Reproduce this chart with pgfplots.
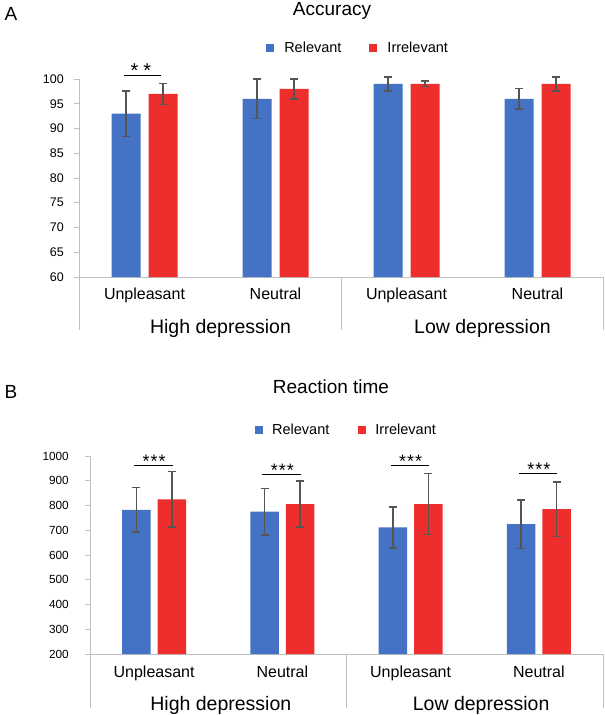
\documentclass[border=0pt]{standalone}
\usepackage{pgfplots}
\pgfplotsset{compat=1.18}
\usepackage{pgfplotstable}
\usepackage{fontspec}
\setmainfont{Liberation Sans}

\definecolor{relblue}{HTML}{4472C4}
\definecolor{irrred}{HTML}{EE2D2D}
\definecolor{errgray}{HTML}{555555}
\definecolor{axgray}{HTML}{BFBFBF}

\newcommand{\fs}[1]{\fontsize{#1bp}{#1bp}\selectfont}

% accuracy (%)
\pgfplotstableread{
x rel relerr irr irrerr
0 93 4.6 97 2.1
1 96 4.0 98 2.0
2 99 1.4 99 0.55
3 96 2.1 99 1.4
}\acctable

% reaction time (ms)
\pgfplotstableread{
x rel relerr irr irrerr
0 782 90 825 112
1 775 94 806 93
2 712 83 806 123
3 725 98 785 110
}\rttable

\pgfplotsset{
  panel/.style={
    scale only axis,
    ybar,
    axis lines*=left,
    axis line style={axgray, line width=1bp},
    xmin=-0.5, xmax=3.5,
    xtick=\empty,
    ytick style={axgray, line width=1bp},
    tick align=outside,
    major tick length=5bp,
    yticklabel style={anchor=east, inner sep=0pt,
      /pgf/number format/assume math mode=true,
      /pgf/number format/1000 sep={}},
    clip=false,
    legend columns=2,
    legend image code/.code={\fill[##1] (0bp,-4bp) rectangle (8bp,4bp);},
  },
  errs/.style={error bars/.cd, y dir=both, y explicit,
    error bar style={errgray, line width=1.5bp},
    error mark options={errgray, rotate=90, mark size=4bp, line width=1.5bp}},
}
\tikzset{
  sepline/.style={axgray, line width=1bp},
  cat/.style={anchor=base, font=\fs{16}},
  grp/.style={anchor=base, font=\fs{19.5}},
}

\begin{document}
\begin{tikzpicture}
\useasboundingbox (0,0) rectangle (605bp,-715bp);

% ---------- A: accuracy ----------
\node[anchor=base west, font=\fs{19}] at (1bp,-20bp) {A};
\node[anchor=base, font=\fs{19}] at (332bp,-15bp) {Accuracy};
\begin{axis}[panel,
  at={(79bp,-277bp)}, anchor=south west,
  width=524bp, height=198bp,
  bar width=29bp,
  ymin=60, ymax=100, ytick={60,65,...,100},
  yticklabel style={font=\fs{12.5}, xshift=-10bp},
  legend style={at={(0.357,1.159)}, anchor=west, draw=none, fill=none,
    inner sep=0pt, font=\fs{14.5},
    /tikz/every odd column/.append style={column sep=10bp},
    /tikz/every even column/.append style={column sep=28bp},
    nodes={inner sep=0pt, anchor=west}},
]
\addplot[bar shift=-18.5bp, fill=relblue, draw=none, errs]
  table[x=x, y=rel, y error=relerr]{\acctable};
\addplot[bar shift=18.5bp, fill=irrred, draw=none, errs]
  table[x=x, y=irr, y error=irrerr]{\acctable};
\legend{Relevant, Irrelevant}
% group separators
\draw[sepline] (axis cs:-0.5,60) -- ([yshift=-53bp]axis cs:-0.5,60);
\draw[sepline] (axis cs:1.5,60) -- ([yshift=-53bp]axis cs:1.5,60);
\draw[sepline] (axis cs:3.5,60) -- ([yshift=-53bp]axis cs:3.5,60);
% category and group labels
\node[cat] at ([yshift=-22bp]axis cs:0,60) {Unpleasant};
\node[cat] at ([yshift=-22bp]axis cs:1,60) {Neutral};
\node[cat] at ([yshift=-22bp]axis cs:2,60) {Unpleasant};
\node[cat] at ([yshift=-22bp]axis cs:3,60) {Neutral};
\node[grp] at ([yshift=-56bp]axis cs:0.58,60) {High depression};
\node[grp] at ([yshift=-56bp]axis cs:2.58,60) {Low depression};
% significance
\draw[line width=1.1bp] (axis cs:-0.156,100.67) -- (axis cs:0.126,100.67);
\node[anchor=base, font=\fs{20}, inner sep=0pt] at ([yshift=-2bp]axis cs:-0.027,100.67) {*\kern5bp*};
\end{axis}

% ---------- B: reaction time ----------
\node[anchor=base west, font=\fs{19}] at (1bp,-398bp) {B};
\node[anchor=base, font=\fs{19}] at (331bp,-393bp) {Reaction time};
\begin{axis}[panel,
  at={(90bp,-654bp)}, anchor=south west,
  width=513bp, height=198bp,
  bar width=28.5bp,
  ymin=200, ymax=1000, ytick={200,300,...,1000},
  yticklabel style={font=\fs{11.8}, xshift=-16bp},
  legend style={at={(0.3216,1.131)}, anchor=west, draw=none, fill=none,
    inner sep=0pt, font=\fs{14.5},
    /tikz/every odd column/.append style={column sep=9bp},
    /tikz/every even column/.append style={column sep=29bp},
    nodes={inner sep=0pt, anchor=west}},
]
\addplot[bar shift=-17.8bp, fill=relblue, draw=none, errs]
  table[x=x, y=rel, y error=relerr]{\rttable};
\addplot[bar shift=17.8bp, fill=irrred, draw=none, errs]
  table[x=x, y=irr, y error=irrerr]{\rttable};
\legend{Relevant, Irrelevant}
\draw[sepline] (axis cs:-0.5,200) -- ([yshift=-54bp]axis cs:-0.5,200);
\draw[sepline] (axis cs:1.5,200) -- ([yshift=-54bp]axis cs:1.5,200);
\draw[sepline] (axis cs:3.5,200) -- ([yshift=-54bp]axis cs:3.5,200);
\node[cat] at ([yshift=-23bp]axis cs:0,200) {Unpleasant};
\node[cat] at ([yshift=-23bp]axis cs:1,200) {Neutral};
\node[cat] at ([yshift=-23bp]axis cs:2,200) {Unpleasant};
\node[cat] at ([yshift=-23bp]axis cs:3,200) {Neutral};
\node[grp] at ([yshift=-56bp]axis cs:0.52,200) {High depression};
\node[grp] at ([yshift=-56bp]axis cs:2.55,200) {Low depression};
% significance
\draw[line width=1.1bp] (axis cs:-0.155,960) -- (axis cs:0.145,960);
\draw[line width=1.1bp] (axis cs:0.845,927) -- (axis cs:1.145,927);
\draw[line width=1.1bp] (axis cs:1.845,960) -- (axis cs:2.145,960);
\draw[line width=1.1bp] (axis cs:2.845,931) -- (axis cs:3.145,931);
\node[anchor=base, font=\fs{18}, inner sep=0pt] at ([yshift=-2bp]axis cs:0,960) {*\kern1bp*\kern1bp*};
\node[anchor=base, font=\fs{18}, inner sep=0pt] at ([yshift=-2bp]axis cs:1,927) {*\kern1bp*\kern1bp*};
\node[anchor=base, font=\fs{18}, inner sep=0pt] at ([yshift=-2bp]axis cs:2,960) {*\kern1bp*\kern1bp*};
\node[anchor=base, font=\fs{18}, inner sep=0pt] at ([yshift=-2bp]axis cs:3,931) {*\kern1bp*\kern1bp*};
\end{axis}
\end{tikzpicture}
\end{document}
